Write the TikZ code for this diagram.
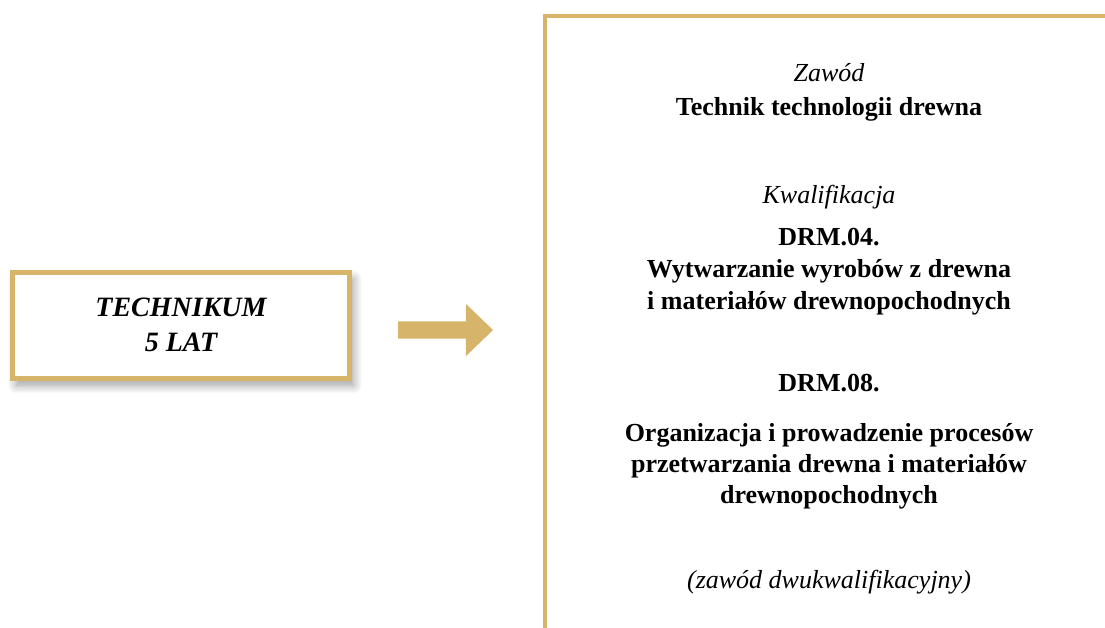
\documentclass[tikz,border=0pt]{standalone}
\usepackage{fontspec}
\setmainfont{Liberation Serif}
\usetikzlibrary{shapes.arrows,shadows.blur}
\definecolor{gold}{RGB}{214,180,106}
\tikzset{
  framebox/.style={draw=gold,line width=5pt,fill=white,align=center,
    minimum width=337pt,minimum height=106pt,
    blur shadow={shadow xshift=4pt,shadow yshift=-7pt,shadow blur radius=9pt,
      shadow opacity=40,shadow blur steps=12}},
  label/.style={anchor=base,font=\fontsize{26}{31}\selectfont\itshape},
  title/.style={anchor=base,font=\fontsize{26}{31}\selectfont\bfseries},
}
\begin{document}
\begin{tikzpicture}[x=1pt,y=-1pt]
        \useasboundingbox (0,0) rectangle (1105,627);
        % left box
        \node[framebox,font=\fontsize{28}{35}\selectfont\bfseries\itshape] (school) at (181,325) {TECHNIKUM\\5 LAT};
        % arrow
        \node[single arrow,fill=gold,inner sep=0pt,inner ysep=8.5pt,
              single arrow head extend=17.5pt,single arrow tip angle=88,
              minimum height=95pt] (arrow) at (441,330) {};
        % right box, cut by the page edge
        \coordinate (fb) at (545,650);
        \coordinate (fc) at (545,16);
        \coordinate (fr) at (1130,16);
        \draw[gold,line width=4.5pt] (fb) -- (fc) -- (fr);
        \node[label] (zawod) at (829,81) {Zawód};
        \node[title] (zawodname) at (829,115) {Technik technologii drewna};
        \node[label] (kwal) at (829,203) {Kwalifikacja};
        \node[title] (drm04) at (829,245) {DRM.04.};
        \node[title] (drm04a) at (829,277) {Wytwarzanie wyrobów z drewna};
        \node[title] (drm04b) at (829,309) {i materiałów drewnopochodnych};
        \node[title] (drm08) at (829,391) {DRM.08.};
        \node[title] (drm08a) at (829,441) {Organizacja i prowadzenie procesów};
        \node[title] (drm08b) at (829,472) {przetwarzania drewna i materiałów};
        \node[title] (drm08c) at (829,503) {drewnopochodnych};
        \node[label] (dwukw) at (829,588) {(zawód dwukwalifikacyjny)};
\end{tikzpicture}
\end{document}
